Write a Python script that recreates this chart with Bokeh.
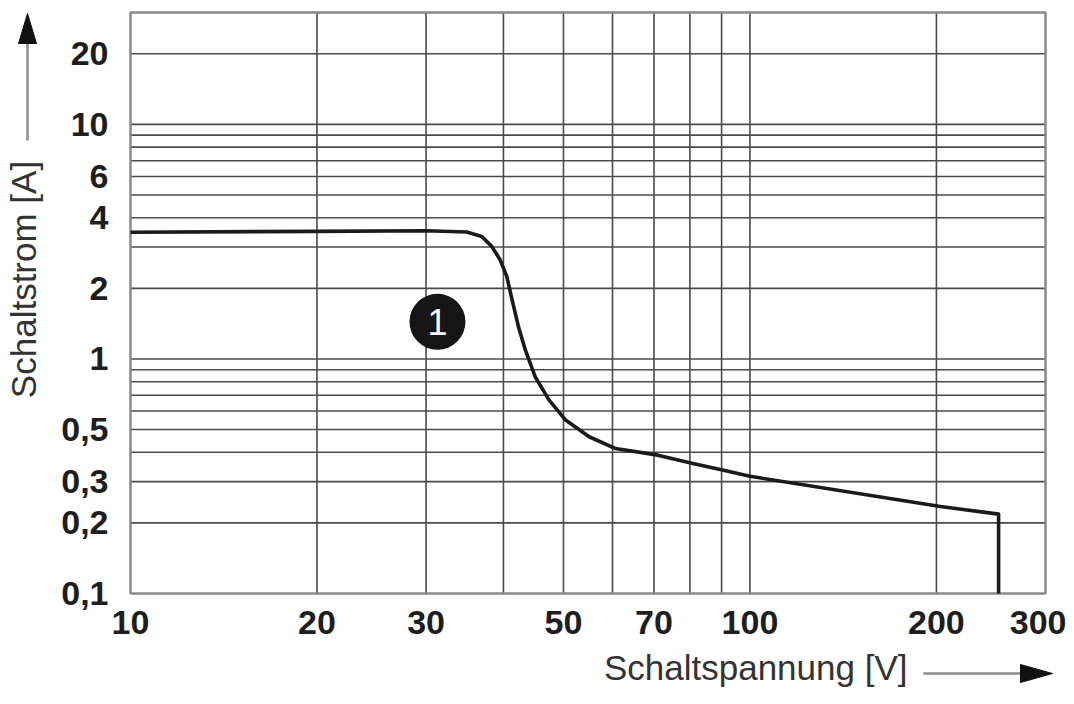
import math
from bokeh.plotting import figure
from bokeh.models import FixedTicker, Range1d, LinearScale
from bokeh.embed import file_html
from bokeh.resources import INLINE
from bokeh.core.properties import value

# ---- data ----
voltage = [10, 20, 30, 34.9, 36.9, 38.3, 39.5, 40.5, 41.3, 42.3, 43.4, 45.0, 47.4,
           50.4, 55.0, 60.7, 71.0, 80.9, 90.3, 100, 203, 252, 252]
current = [3.47, 3.50, 3.52, 3.48, 3.33, 3.02, 2.65, 2.25, 1.79, 1.37, 1.09, 0.84, 0.668,
           0.549, 0.466, 0.415, 0.389, 0.358, 0.336, 0.316, 0.235, 0.218, 0.1]

x_limits = [10, 300]
y_limits = [0.1, 30]

x_ticks = [10, 20, 30, 50, 70, 100, 200, 300]
x_tick_labels = ["10", "20", "30", "50", "70", "100", "200", "300"]
y_ticks = [0.1, 0.2, 0.3, 0.5, 1, 2, 4, 6, 10, 20]
y_tick_labels = ["0,1", "0,2", "0,3", "0,5", "1", "2", "4", "6", "10", "20"]

x_grid = [20, 30, 40, 50, 60, 70, 80, 90, 100, 200]
y_grid = [0.2, 0.3, 0.4, 0.5, 0.6, 0.7, 0.8, 0.9, 1, 2, 3, 4, 5, 6, 7, 8, 9, 10, 20]

callout_x = [31.3]
callout_y = [1.44]
callout_text = ["1"]

x_title = "Schaltspannung [V]"
y_title = "Schaltstrom [A]"

# ---- layout (pixels on the canvas) ----
FONT = "Liberation Sans"
W, H = 1066, 688
BOX_L, BOX_R, BOX_T, BOX_B = 130, 1045, 12, 593

x_lo, x_hi = x_limits
y_lo, y_hi = y_limits
xdec = (BOX_R - BOX_L) / (math.log10(x_hi) - math.log10(x_lo))
ydec = (BOX_B - BOX_T) / (math.log10(y_hi) - math.log10(y_lo))
x_range = Range1d(10 ** (math.log10(x_lo) - BOX_L / xdec),
                  10 ** (math.log10(x_hi) + (W - BOX_R) / xdec))
y_range = Range1d(10 ** (math.log10(y_lo) - (H - BOX_B) / ydec),
                  10 ** (math.log10(y_hi) + BOX_T / ydec))

p = figure(width=W, height=H, x_axis_type="log", y_axis_type="log",
           x_range=x_range, y_range=y_range,
           output_backend="svg", toolbar_location=None,
           min_border=0, min_border_left=0, min_border_right=0,
           min_border_top=0, min_border_bottom=0)

# canvas-pixel ranges for the decorations around the chart box
p.extra_x_ranges = {"px": Range1d(0, W)}
p.extra_y_ranges = {"py": Range1d(H, 0)}
p.extra_x_scales = {"px": LinearScale()}
p.extra_y_scales = {"py": LinearScale()}

p.background_fill_color = "white"
p.border_fill_color = "white"
p.outline_line_color = None
p.grid.visible = False

# ---- axes (real Bokeh axes pinned to the chart box) ----
p.xaxis.fixed_location = y_lo
p.yaxis.fixed_location = x_lo
for ax, ticks, labels in ((p.xaxis, x_ticks, x_tick_labels), (p.yaxis, y_ticks, y_tick_labels)):
    ax.ticker = FixedTicker(ticks=ticks)
    ax.major_label_overrides = {t: s for t, s in zip(ticks, labels)}
    ax.axis_line_color = None
    ax.major_tick_line_color = None
    ax.minor_tick_line_color = None
    ax.major_tick_out = 0
    ax.major_tick_in = 0
    ax.major_label_text_font = FONT
    ax.major_label_text_font_style = "bold"
    ax.major_label_text_font_size = "34px"
    ax.major_label_text_color = "#1e1e1e"
p.xaxis.major_label_standoff = 17
p.yaxis.major_label_standoff = 22

# ---- grid lines and chart box ----
grid_color = "#4a4a4a"
p.segment(x0=x_grid, y0=[y_lo] * len(x_grid), x1=x_grid, y1=[y_hi] * len(x_grid),
          line_color=grid_color, line_width=1.6)
p.segment(x0=[x_lo] * len(y_grid), y0=y_grid, x1=[x_hi] * len(y_grid), y1=y_grid,
          line_color=grid_color, line_width=1.6)
p.quad(left=[x_lo], right=[x_hi], bottom=[y_lo], top=[y_hi],
       fill_color=None, line_color="#8a8a8a", line_width=2.5)

# ---- curve ----
p.line(voltage, current, line_color="#1a1a1a", line_width=3.6, line_join="round")

# ---- callout ----
p.scatter(callout_x, callout_y, size=56, fill_color="#151515", line_color=None)
p.text(callout_x, callout_y, text=callout_text, text_color="white",
       text_font=value(FONT), text_font_size="36px",
       text_align="center", text_baseline="middle")

# ---- axis titles with arrows (canvas pixel coordinates) ----
p.text(x=[907], y=[667], text=[x_title], x_range_name="px", y_range_name="py",
       text_font=value(FONT), text_font_size="35px", text_color="#333333",
       text_align="right", text_baseline="middle")
p.segment(x0=[923], y0=[673], x1=[1021], y1=[673], x_range_name="px", y_range_name="py",
          line_color="#8c8c8c", line_width=2.5)
p.patch(x=[1020, 1020, 1052], y=[664, 682, 673], x_range_name="px", y_range_name="py",
        fill_color="#111111", line_color="#111111", line_width=1)

p.text(x=[23], y=[279], text=[y_title], x_range_name="px", y_range_name="py",
       angle=math.pi / 2,
       text_font=value(FONT), text_font_size="35px", text_color="#333333",
       text_align="center", text_baseline="middle")
p.segment(x0=[27], y0=[140], x1=[27], y1=[42], x_range_name="px", y_range_name="py",
          line_color="#8c8c8c", line_width=2.5)
p.patch(x=[18, 36, 27], y=[43, 43, 13], x_range_name="px", y_range_name="py",
        fill_color="#111111", line_color="#111111", line_width=1)

open("out.html", "w").write(file_html(p, INLINE))
